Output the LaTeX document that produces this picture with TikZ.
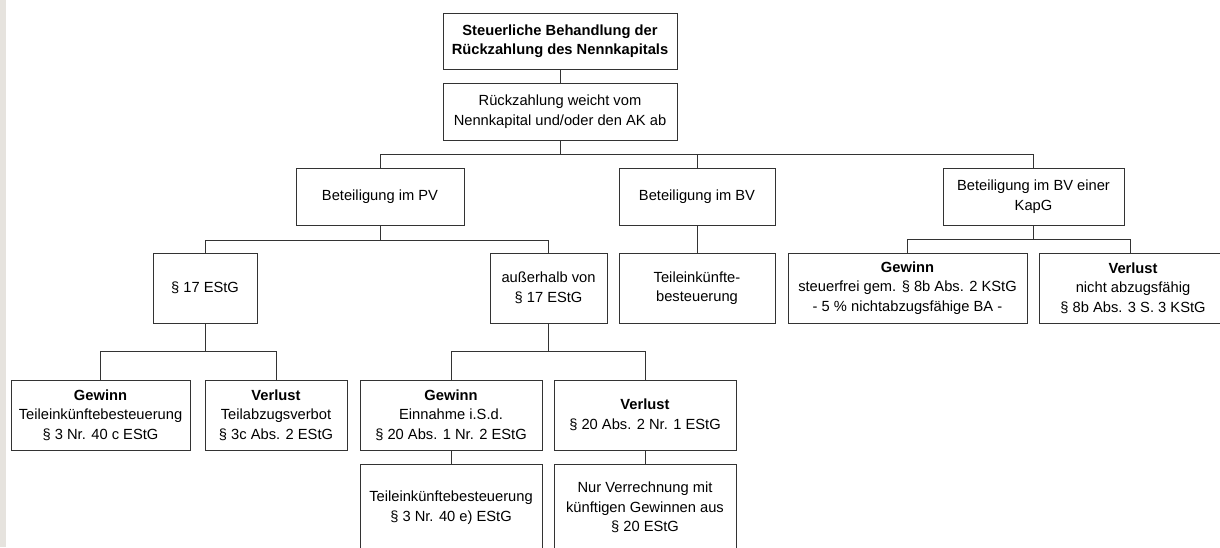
\documentclass[tikz,border=0pt]{standalone}
\usepackage{fontspec}
\setmainfont{Liberation Sans}
\definecolor{stripgray}{RGB}{230,227,222}
\begin{document}
\begin{tikzpicture}[x=1pt,y=-1pt,
  box/.style={draw=black!80,line width=0.9pt,fill=white,rectangle,inner sep=0pt,align=center,
    font=\fontsize{14.7}{19.5}\selectfont},
  conn/.style={draw=black!80,line width=0.9pt}]
\useasboundingbox (0,0) rectangle (1220,547);
\clip (0,0) rectangle (1220,547);
\fill[white] (0,0) rectangle (1220,547);
\fill[stripgray] (0,0) rectangle (6,547);
% level 0/1
\node[box,minimum width=234,minimum height=56] (title) at (560,41) {\bfseries Steuerliche Behandlung der\\\bfseries Rückzahlung des Nennkapitals};
\node[box,minimum width=234,minimum height=57] (abw) at (560,111.5) {Rückzahlung weicht vom\\Nennkapital und/oder den AK ab};
% level 2
\node[box,minimum width=168,minimum height=57] (pv) at (380,196.5) {Beteiligung im PV};
\node[box,minimum width=156,minimum height=57] (bv) at (697,196.5) {Beteiligung im BV};
\node[box,minimum width=181,minimum height=57] (kapg) at (1033.5,196.5) {Beteiligung im BV einer\\KapG};
% level 3
\node[box,minimum width=104,minimum height=70] (s17) at (205,288) {§ 17 EStG};
\node[box,minimum width=117,minimum height=70] (aus) at (548.5,288) {außerhalb von\\§ 17 EStG};
\node[box,minimum width=156,minimum height=70] (tek) at (697,288) {Teileinkünfte-\\besteuerung};
\node[box,minimum width=239,minimum height=70] (kg) at (907.5,288) {\textbf{Gewinn}\\steuerfrei gem. § 8b Abs. 2 KStG\\- 5 \% nichtabzugsfähige BA -};
\node[box,minimum width=188,minimum height=70] (kv) at (1133,288) {\textbf{Verlust}\\nicht abzugsfähig\\§ 8b Abs. 3 S. 3 KStG};
% level 4
\node[box,minimum width=179,minimum height=70] (s17g) at (100.5,415) {\textbf{Gewinn}\\Teileinkünftebesteuerung\\§ 3 Nr. 40 c EStG};
\node[box,minimum width=142,minimum height=70] (s17v) at (276,415) {\textbf{Verlust}\\Teilabzugsverbot\\§ 3c Abs. 2 EStG};
\node[box,minimum width=182,minimum height=70] (ag) at (451,415) {\textbf{Gewinn}\\Einnahme i.S.d.\\§ 20 Abs. 1 Nr. 2 EStG};
\node[box,minimum width=182,minimum height=70] (av) at (645,415) {\textbf{Verlust}\\§ 20 Abs. 2 Nr. 1 EStG};
% level 5
\node[box,minimum width=182,minimum height=87] (ag2) at (451,507.5) {Teileinkünftebesteuerung\\§ 3 Nr. 40 e) EStG};
\node[box,minimum width=182,minimum height=87] (av2) at (645,507.5) {Nur Verrechnung mit\\künftigen Gewinnen aus\\§ 20 EStG};
% connectors
\coordinate (j1) at (560,154);
\coordinate (j2) at (380,240);
\coordinate (j3) at (1033.5,239);
\coordinate (j4) at (205,351);
\coordinate (j5) at (548.5,351);
\coordinate (j3r) at (1130,239);
\draw[conn] (title) -- (abw);
\draw[conn] (abw.south) -- (j1);
\draw[conn] (pv.north) -- (pv.north |- j1) -- (kapg.north |- j1) -- (kapg.north);
\draw[conn] (bv.north) -- (bv.north |- j1);
\draw[conn] (pv.south) -- (j2);
\draw[conn] (s17.north) -- (s17.north |- j2) -- (aus.north |- j2) -- (aus.north);
\draw[conn] (bv) -- (tek);
\draw[conn] (kapg.south) -- (j3);
\draw[conn] (kg.north) -- (kg.north |- j3) -- (j3r) -- (kv.north -| j3r);
\draw[conn] (s17.south) -- (j4);
\draw[conn] (s17g.north) -- (s17g.north |- j4) -- (s17v.north |- j4) -- (s17v.north);
\draw[conn] (aus.south) -- (j5);
\draw[conn] (ag.north) -- (ag.north |- j5) -- (av.north |- j5) -- (av.north);
\draw[conn] (ag) -- (ag2);
\draw[conn] (av) -- (av2);
\end{tikzpicture}
\end{document}
